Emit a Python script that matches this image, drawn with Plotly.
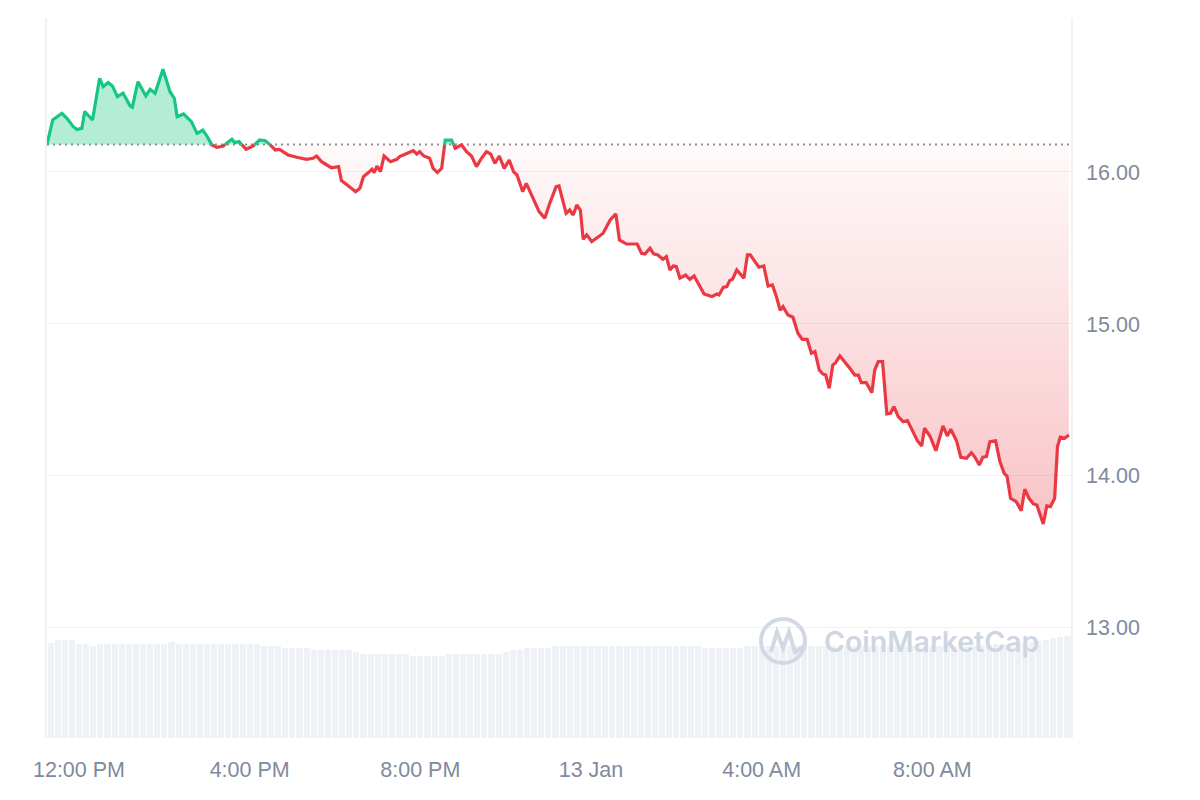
import pandas as pd
import plotly.graph_objects as go

# ---------------- data ----------------
start_time = "2025-01-12 11:15"
end_time = "2025-01-13 11:15"

# minutes after start_time, and price (USD)
minutes = [0, 8, 21, 28, 37, 42, 49, 53, 64, 74,
           79, 86, 92, 99, 107, 117, 120, 128, 139, 145,
           152, 163, 173, 179, 183, 192, 203, 211, 219, 224,
           232, 239, 248, 260, 264, 270, 280, 290, 299, 307,
           314, 321, 327, 339, 351, 365, 374, 379, 386, 400,
           410, 414, 424, 434, 440, 445, 452, 457, 460, 464,
           469, 474, 483, 492, 496, 510, 515, 520, 524, 530,
           538, 543, 549, 555, 560, 569, 574, 583, 590, 597,
           604, 611, 618, 624, 630, 636, 643, 650, 656, 661,
           669, 674, 684, 692, 700, 707, 716, 720, 730, 735,
           740, 745, 750, 754, 759, 766, 777, 782, 792, 800,
           805, 815, 830, 836, 841, 848, 853, 859, 866, 871,
           876, 881, 885, 890, 898, 904, 910, 924, 935, 942,
           945, 951, 956, 960, 964, 970, 980, 985, 989, 1001,
           1008, 1014, 1020, 1025, 1031, 1035, 1042, 1049, 1056, 1062,
           1069, 1075, 1080, 1086, 1091, 1095, 1100, 1105, 1109, 1115,
           1129, 1136, 1141, 1145, 1152, 1160, 1164, 1169, 1175, 1181,
           1186, 1191, 1197, 1204, 1210, 1216, 1224, 1230, 1234, 1242,
           1250, 1260, 1266, 1271, 1279, 1285, 1293, 1300, 1305, 1311,
           1316, 1321, 1326, 1334, 1340, 1346, 1350, 1355, 1363, 1370,
           1375, 1381, 1387, 1392, 1401, 1406, 1411, 1417, 1421, 1425,
           1431, 1437]

prices = [16.18, 16.342, 16.386, 16.353, 16.298, 16.28, 16.287, 16.397, 16.342, 16.616,
          16.561, 16.588, 16.566, 16.495, 16.518, 16.434, 16.426, 16.594, 16.5, 16.544,
          16.518, 16.676, 16.528, 16.485, 16.364, 16.382, 16.331, 16.254, 16.276, 16.243,
          16.178, 16.162, 16.171, 16.215, 16.193, 16.2, 16.149, 16.171, 16.211, 16.206,
          16.178, 16.145, 16.149, 16.112, 16.097, 16.083, 16.09, 16.105, 16.068, 16.028,
          16.035, 15.943, 15.908, 15.87, 15.893, 15.969, 15.996, 16.018, 15.996, 16.039,
          16.002, 16.105, 16.068, 16.083, 16.101, 16.134, 16.14, 16.118, 16.134, 16.105,
          16.09, 16.024, 15.996, 16.024, 16.21, 16.21, 16.156, 16.178, 16.134, 16.105,
          16.035, 16.09, 16.134, 16.118, 16.057, 16.105, 16.024, 16.079, 16.002, 15.98,
          15.87, 15.925, 15.816, 15.739, 15.695, 15.794, 15.904, 15.908, 15.728, 15.75,
          15.717, 15.783, 15.75, 15.557, 15.586, 15.542, 15.579, 15.597, 15.684, 15.724,
          15.553, 15.526, 15.526, 15.465, 15.461, 15.498, 15.461, 15.454, 15.426, 15.443,
          15.355, 15.382, 15.377, 15.301, 15.322, 15.294, 15.316, 15.197, 15.18, 15.197,
          15.191, 15.241, 15.246, 15.285, 15.294, 15.355, 15.301, 15.454, 15.454, 15.373,
          15.382, 15.25, 15.257, 15.191, 15.09, 15.114, 15.059, 15.044, 14.939, 14.899,
          14.899, 14.807, 14.818, 14.697, 14.671, 14.664, 14.577, 14.73, 14.745, 14.789,
          14.708, 14.664, 14.664, 14.614, 14.614, 14.548, 14.697, 14.752, 14.752, 14.408,
          14.412, 14.456, 14.39, 14.357, 14.364, 14.303, 14.232, 14.197, 14.314, 14.259,
          14.166, 14.329, 14.263, 14.307, 14.232, 14.123, 14.116, 14.153, 14.123, 14.072,
          14.123, 14.127, 14.226, 14.232, 14.094, 14.017, 14.0, 13.853, 13.831, 13.772,
          13.913, 13.853, 13.816, 13.809, 13.684, 13.803, 13.798, 13.853, 14.193, 14.255,
          14.248, 14.27]

# volume, one bar per 10 minutes (relative units)
volume = [95, 98, 98, 98, 94, 94, 92, 94, 94, 94,
          94, 94, 94, 94, 94, 94, 94, 96, 94, 94,
          94, 94, 94, 94, 94, 94, 94, 94, 94, 94,
          92, 92, 92, 90, 90, 90, 90, 88, 88, 88,
          88, 88, 88, 86, 84, 84, 84, 84, 84, 84,
          84, 82, 82, 82, 82, 82, 84, 84, 84, 84,
          84, 84, 84, 84, 86, 88, 88, 90, 90, 90,
          90, 92, 92, 92, 92, 92, 92, 92, 92, 92,
          92, 92, 92, 92, 92, 92, 92, 92, 92, 92,
          92, 92, 90, 90, 90, 90, 90, 90, 92, 92,
          92, 92, 92, 92, 92, 92, 92, 92, 92, 92,
          92, 92, 92, 92, 92, 92, 92, 92, 92, 92,
          92, 92, 92, 92, 92, 92, 92, 92, 92, 92,
          92, 93, 93, 94, 94, 94, 95, 95, 96, 97,
          98, 100, 101, 102]
volume_step_minutes = 10

tick_times = ["2025-01-12 12:00", "2025-01-12 16:00", "2025-01-12 20:00",
              "2025-01-13 00:00", "2025-01-13 04:00", "2025-01-13 08:00"]
tick_labels = ["12:00 PM", "4:00 PM", "8:00 PM", "13 Jan", "4:00 AM", "8:00 AM"]
price_ticks = [13, 14, 15, 16]

# ---------------- styling ----------------
GREEN = "#16c784"
RED = "#ea3943"
GRID = "#eff2f5"
TEXT = "#808a9d"

t0 = pd.Timestamp(start_time)
base = prices[0]

# insert baseline crossing points so colours switch exactly at the baseline
aug_m, aug_v = [], []
for i in range(len(minutes)):
    if i > 0:
        v0, v1 = prices[i - 1], prices[i]
        if (v0 - base) * (v1 - base) < 0:
            f = (base - v0) / (v1 - v0)
            aug_m.append(minutes[i - 1] + f * (minutes[i] - minutes[i - 1]))
            aug_v.append(base)
    aug_m.append(minutes[i])
    aug_v.append(prices[i])

t_aug = [t0 + pd.Timedelta(minutes=m) for m in aug_m]
up = [max(v, base) for v in aug_v]
dn = [min(v, base) for v in aug_v]
green_line = [v if v >= base else None for v in aug_v]
red_line = [v if v <= base else None for v in aug_v]
base_line = [base] * len(aug_v)

fig = go.Figure()

# volume bars (secondary axis)
vol_t = [t0 + pd.Timedelta(minutes=volume_step_minutes * i + volume_step_minutes / 2)
         for i in range(len(volume))]
fig.add_trace(go.Bar(
    x=vol_t, y=volume, yaxis="y2",
    marker=dict(color="#eef1f5", line=dict(width=0)),
    width=volume_step_minutes * 60 * 1000 * 0.86,
    hoverinfo="skip", showlegend=False))

# green fill (above baseline)
fig.add_trace(go.Scatter(x=t_aug, y=base_line, mode="lines",
                         line=dict(width=0), hoverinfo="skip", showlegend=False))
fig.add_trace(go.Scatter(x=t_aug, y=up, mode="lines", fill="tonexty",
                         fillcolor="rgba(22,199,132,0.32)",
                         line=dict(width=0), hoverinfo="skip", showlegend=False))
# red gradient fill (below baseline)
fig.add_trace(go.Scatter(x=t_aug, y=base_line, mode="lines",
                         line=dict(width=0), hoverinfo="skip", showlegend=False))
fig.add_trace(go.Scatter(x=t_aug, y=dn, mode="lines", fill="tonexty",
                         fillgradient=dict(type="vertical",
                                           colorscale=[[0, "rgba(234,57,67,0.30)"],
                                                       [1, "rgba(234,57,67,0.03)"]]),
                         line=dict(width=0), hoverinfo="skip", showlegend=False))

# dotted baseline across the full width
fig.add_trace(go.Scatter(x=[t0, pd.Timestamp(end_time)], y=[base, base], mode="lines",
                         line=dict(color="#8f8f8f", width=2, dash="2px,4px"),
                         hoverinfo="skip", showlegend=False))

# price line
fig.add_trace(go.Scatter(x=t_aug, y=red_line, mode="lines",
                         line=dict(color=RED, width=3.2), connectgaps=False,
                         hoverinfo="skip", showlegend=False))
fig.add_trace(go.Scatter(x=t_aug, y=green_line, mode="lines",
                         line=dict(color=GREEN, width=3.2), connectgaps=False,
                         hoverinfo="skip", showlegend=False))

# page offset of the figure inside the browser window (default body margin)
OFF = 8
PLOT_L, PLOT_R, PLOT_T, PLOT_B = 47 - OFF, 1071 - OFF, 18 - OFF, 738 - OFF
W, H = 1200 - OFF, 800 - OFF


# watermark (positions given in window pixels)
def px_to_paper(px, py):
    return (px - 47) / 1024, (738 - py) / 720


cx0, cy0 = px_to_paper(761, 663)
cx1, cy1 = px_to_paper(805, 619)
fig.add_shape(type="circle", xref="paper", yref="paper", x0=cx0, y0=cy0, x1=cx1, y1=cy1,
              line=dict(color="#d3d9e4", width=4), layer="above")
m_pts = [px_to_paper(*p) for p in [(771, 652), (777, 632), (783, 648), (789, 632), (795, 652), (804, 646)]]
path = "M " + " L ".join(f"{x:.4f},{y:.4f}" for x, y in m_pts)
fig.add_shape(type="path", xref="paper", yref="paper", path=path,
              line=dict(color="#d3d9e4", width=4), layer="above")
tx, ty = px_to_paper(931, 641)
fig.add_annotation(x=tx, y=ty, xref="paper", yref="paper", text="CoinMarketCap",
                   showarrow=False, xanchor="center", yanchor="middle",
                   font=dict(family="Inter", size=28.5, color="#cfd6e2", weight=600))

fig.update_layout(
    width=W, height=H,
    margin=dict(l=PLOT_L, r=W - PLOT_R, t=PLOT_T, b=H - PLOT_B, pad=0),
    paper_bgcolor="white", plot_bgcolor="white",
    showlegend=False, bargap=0,
    font=dict(family="Liberation Sans, Arial, sans-serif", color=TEXT, size=21.5),
    xaxis=dict(type="date", range=[t0, pd.Timestamp(end_time)],
               tickvals=tick_times, ticktext=tick_labels,
               showgrid=False, zeroline=False, showline=False,
               ticks="outside", ticklen=12, tickcolor="rgba(0,0,0,0)",
               tickfont=dict(size=21.5, color=TEXT), automargin=False),
    yaxis=dict(side="right", range=[12.276, 17.013],
               tickvals=price_ticks, tickformat=".2f",
               showgrid=True, gridcolor=GRID, gridwidth=1, zeroline=False,
               showline=True, mirror=True, linecolor=GRID, linewidth=1.5,
               ticks="outside", ticklen=9, tickcolor="rgba(0,0,0,0)",
               tickfont=dict(size=21.5, color=TEXT), automargin=False),
    yaxis2=dict(overlaying="y", range=[0, 720], visible=False, fixedrange=True),
)

fig.write_html("out.html")
